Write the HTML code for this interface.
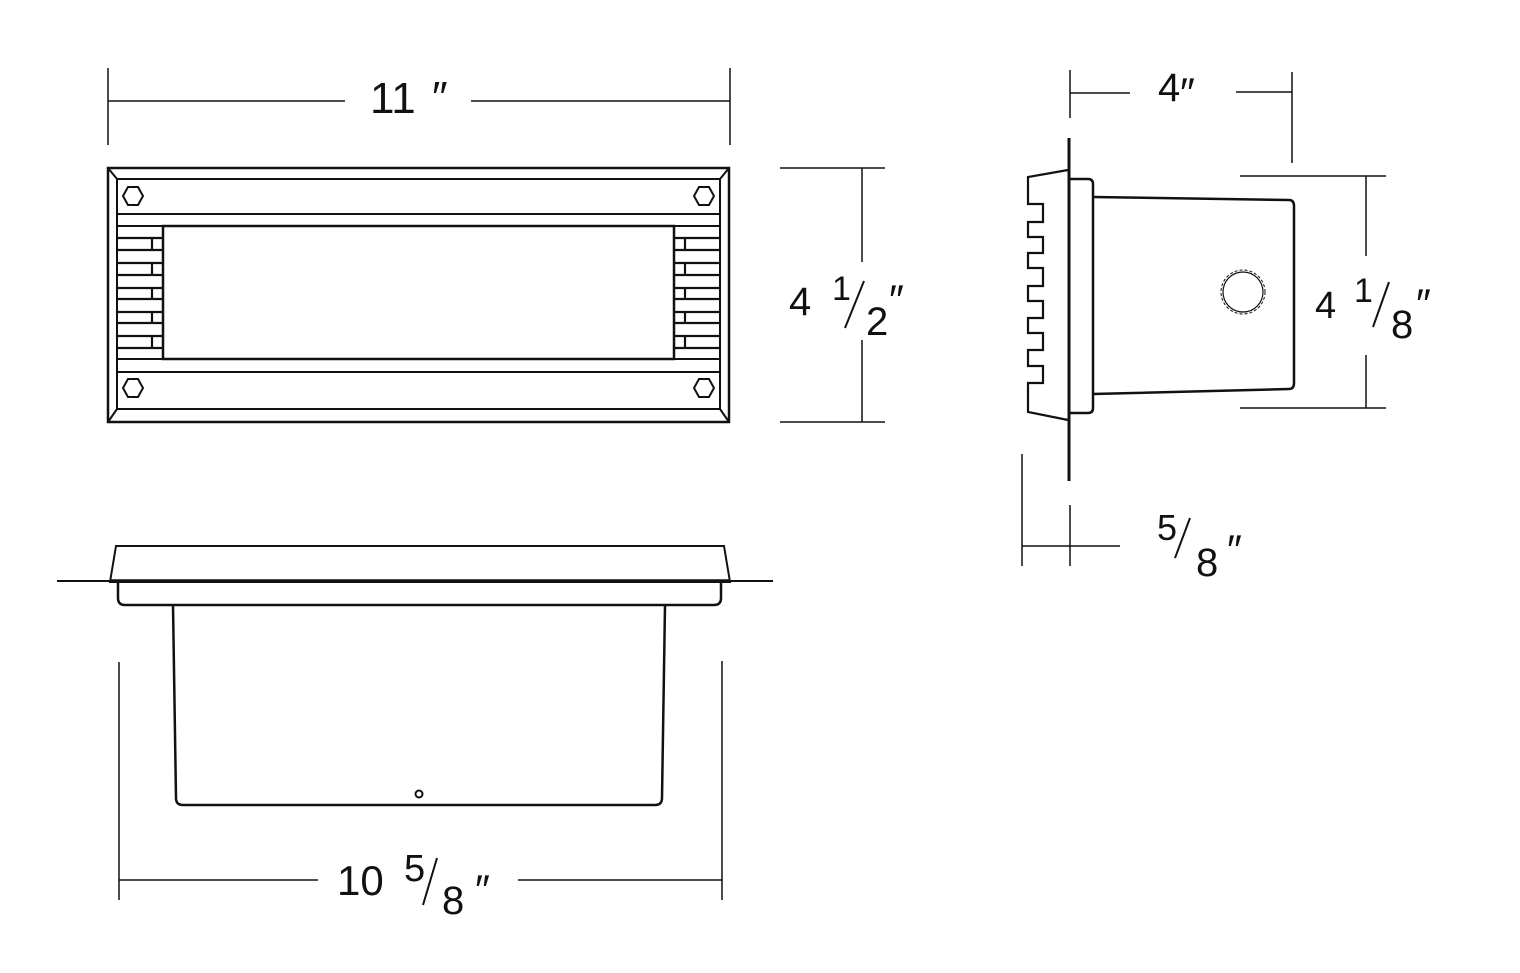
<!DOCTYPE html>
<html><head><meta charset="utf-8"><style>
html,body{margin:0;padding:0;background:#fff;}
svg{display:block}
text{font-family:"Liberation Sans",sans-serif;fill:#111;}
</style></head><body>
<svg width="1520" height="973" viewBox="0 0 1520 973" xmlns="http://www.w3.org/2000/svg">
<g fill="none" stroke="#111" stroke-width="2">
<rect x="108" y="168" width="621" height="254" stroke-width="2.5"/>
<rect x="117" y="179" width="603" height="230"/>
<line x1="108" y1="168" x2="117" y2="179"/><line x1="729" y1="168" x2="720" y2="179"/>
<line x1="108" y1="422" x2="117" y2="409"/><line x1="729" y1="422" x2="720" y2="409"/>
<line x1="117" y1="214" x2="720" y2="214"/>
<line x1="117" y1="372" x2="720" y2="372"/>
<rect x="163" y="226" width="511" height="133" stroke-width="2.5"/>
<line x1="117" y1="226" x2="163" y2="226"/><line x1="117" y1="359" x2="163" y2="359"/>
<line x1="674" y1="226" x2="720" y2="226"/><line x1="674" y1="359" x2="720" y2="359"/>
<g stroke-width="2.2">
<line x1="117" y1="238" x2="163" y2="238"/><line x1="117" y1="250" x2="163" y2="250"/>
<line x1="117" y1="263" x2="163" y2="263"/><line x1="117" y1="275" x2="163" y2="275"/>
<line x1="117" y1="288" x2="163" y2="288"/><line x1="117" y1="299" x2="163" y2="299"/>
<line x1="117" y1="312" x2="163" y2="312"/><line x1="117" y1="323" x2="163" y2="323"/>
<line x1="117" y1="336" x2="163" y2="336"/><line x1="117" y1="348" x2="163" y2="348"/>
<line x1="152" y1="238" x2="152" y2="250"/><line x1="152" y1="263" x2="152" y2="275"/>
<line x1="152" y1="288" x2="152" y2="299"/><line x1="152" y1="312" x2="152" y2="323"/>
<line x1="152" y1="336" x2="152" y2="348"/>
<line x1="674" y1="238" x2="720" y2="238"/><line x1="674" y1="250" x2="720" y2="250"/>
<line x1="674" y1="263" x2="720" y2="263"/><line x1="674" y1="275" x2="720" y2="275"/>
<line x1="674" y1="288" x2="720" y2="288"/><line x1="674" y1="299" x2="720" y2="299"/>
<line x1="674" y1="312" x2="720" y2="312"/><line x1="674" y1="323" x2="720" y2="323"/>
<line x1="674" y1="336" x2="720" y2="336"/><line x1="674" y1="348" x2="720" y2="348"/>
<line x1="685" y1="238" x2="685" y2="250"/><line x1="685" y1="263" x2="685" y2="275"/>
<line x1="685" y1="288" x2="685" y2="299"/><line x1="685" y1="312" x2="685" y2="323"/>
<line x1="685" y1="336" x2="685" y2="348"/>
</g>
<polygon points="123,196 128,187 138,187 143,196 138,205 128,205"/>
<polygon points="694,196 699,187 709,187 714,196 709,205 699,205"/>
<polygon points="123,388 128,379 138,379 143,388 138,397 128,397"/>
<polygon points="694,388 699,379 709,379 714,388 709,397 699,397"/>

<line x1="108" y1="68" x2="108" y2="145" stroke-width="1.5"/>
<line x1="730" y1="68" x2="730" y2="145" stroke-width="1.5"/>
<line x1="108" y1="101" x2="345" y2="101" stroke-width="1.5"/>
<line x1="471" y1="101" x2="730" y2="101" stroke-width="1.5"/>
<line x1="780" y1="168" x2="885" y2="168" stroke-width="1.5"/>
<line x1="780" y1="422" x2="885" y2="422" stroke-width="1.5"/>
<line x1="862" y1="168" x2="862" y2="262" stroke-width="1.5"/>
<line x1="862" y1="340" x2="862" y2="422" stroke-width="1.5"/>

<line x1="1069" y1="138" x2="1069" y2="481" stroke-width="3"/>
<path d="M1068,170 L1028,177 L1028,204 L1043,204 L1043,222 L1028,222 L1028,237 L1043,237 L1043,253 L1028,253 L1028,268 L1043,268 L1043,286 L1028,286 L1028,301 L1043,301 L1043,318 L1028,318 L1028,333 L1043,333 L1043,350 L1028,350 L1028,366 L1043,366 L1043,383 L1028,383 L1028,412 L1068,420" stroke-width="2.2"/>
<path d="M1069,179 L1088,179 Q1093,179 1093,184 L1093,408 Q1093,413 1088,413 L1069,413" stroke-width="2.5"/>
<path d="M1093,197 L1289,200 Q1294,200 1294,206 L1294,383 Q1294,389 1289,389 L1093,394" stroke-width="2.5"/>
<circle cx="1243" cy="292" r="20" stroke-width="1.2"/>
<circle cx="1243" cy="292" r="22" stroke-width="1" stroke-dasharray="3,2"/>
<line x1="1070" y1="70" x2="1070" y2="118" stroke-width="1.5"/>
<line x1="1292" y1="72" x2="1292" y2="163" stroke-width="1.5"/>
<line x1="1070" y1="93" x2="1130" y2="93" stroke-width="1.5"/>
<line x1="1236" y1="92" x2="1292" y2="92" stroke-width="1.5"/>
<line x1="1240" y1="176" x2="1386" y2="176" stroke-width="1.5"/>
<line x1="1240" y1="408" x2="1386" y2="408" stroke-width="1.5"/>
<line x1="1366" y1="176" x2="1366" y2="256" stroke-width="1.5"/>
<line x1="1366" y1="355" x2="1366" y2="408" stroke-width="1.5"/>
<line x1="1022" y1="454" x2="1022" y2="566" stroke-width="1.5"/>
<line x1="1070" y1="505" x2="1070" y2="566" stroke-width="1.5"/>
<line x1="1022" y1="546" x2="1120" y2="546" stroke-width="1.5"/>

<line x1="57" y1="581" x2="773" y2="581" stroke-width="2"/>
<line x1="110" y1="581" x2="730" y2="581" stroke-width="3.5"/>
<polygon points="110,582 116,546 724,546 730,582" stroke-width="2"/>
<path d="M118,582 L118,598 Q118,605 125,605 L714,605 Q721,605 721,598 L721,582" stroke-width="2.5"/>
<path d="M173,605 L176,798 Q176,805 183,805 L655,805 Q662,805 662,798 L665,605" stroke-width="2.5"/>
<circle cx="419" cy="794" r="3.5" stroke-width="2"/>
<line x1="119" y1="662" x2="119" y2="900" stroke-width="1.5"/>
<line x1="722" y1="661" x2="722" y2="900" stroke-width="1.5"/>
<line x1="119" y1="880" x2="318" y2="880" stroke-width="1.5"/>
<line x1="518" y1="880" x2="722" y2="880" stroke-width="1.5"/>
<line x1="845" y1="328" x2="864" y2="281" stroke-width="2"/>
<line x1="1373" y1="327" x2="1389" y2="282" stroke-width="2"/>
<line x1="1175" y1="558" x2="1190" y2="518" stroke-width="2"/>
<line x1="423" y1="905" x2="437" y2="858" stroke-width="2"/>
</g>
<g font-size="44">
<text x="370" y="113">11</text>
<text x="432" y="112" font-size="44">″</text>
<text x="789" y="315" font-size="40">4</text>
<text x="832" y="300" font-size="34">1</text>
<text x="866" y="335" font-size="40">2</text>
<text x="889" y="314" font-size="42">″</text>
<text x="1158" y="101" font-size="40">4</text>
<text x="1180" y="107" font-size="42">″</text>
<text x="1315" y="318" font-size="38">4</text>
<text x="1354" y="302" font-size="34">1</text>
<text x="1391" y="338" font-size="40">8</text>
<text x="1416" y="318" font-size="42">″</text>
<text x="1157" y="540" font-size="36">5</text>
<text x="1196" y="576" font-size="40">8</text>
<text x="1227" y="564" font-size="42">″</text>
<text x="337" y="895" font-size="42">10</text>
<text x="404" y="881" font-size="38">5</text>
<text x="442" y="914" font-size="40">8</text>
<text x="475" y="904" font-size="42">″</text>
</g>
</svg>
</body></html>
